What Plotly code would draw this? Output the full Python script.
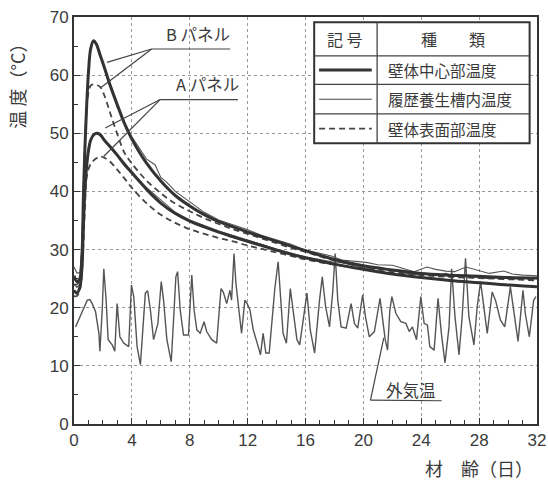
import plotly.graph_objects as go

# ---------------- data ----------------
days_c = [0, 0.2, 0.4, 0.55, 0.65, 0.75, 0.88, 1.0, 1.15, 1.35, 1.55, 1.8, 2.1, 2.5, 3.0, 3.5, 4.0,
          5.0, 6.0, 7.0, 8.0, 9.0, 10, 11, 12, 13, 14, 15, 16, 18, 20, 22, 24, 26, 28, 30, 32]

b_center = [25.5, 24.5, 25.0, 29.0, 39.0, 47.0, 55.0, 60.5, 64.5, 65.9, 65.3, 63.5, 61.3, 58.2, 54.8, 51.6, 49.0,
            44.9, 41.8, 39.3, 37.5, 36.0, 34.8, 33.9, 33.0, 32.2, 31.4, 30.6, 29.8, 28.3, 27.2, 26.5, 25.9, 25.6, 25.4, 25.2, 25.1]
a_center = [23.0, 22.5, 23.5, 27.0, 34.0, 40.0, 44.5, 47.0, 48.8, 49.7, 50.0, 49.8, 48.8, 47.7, 46.2, 44.6, 43.2,
            40.4, 38.0, 36.2, 34.9, 33.9, 33.0, 32.2, 31.4, 30.7, 29.9, 29.2, 28.6, 27.5, 26.6, 25.8, 25.2, 24.7, 24.3, 23.9, 23.6]
b_surface = [24.0, 24.0, 25.0, 30.0, 40.0, 48.0, 54.5, 57.0, 58.2, 58.4, 58.3, 58.0, 56.5, 53.5, 49.8, 46.6, 44.8,
             41.9, 39.7, 37.9, 36.6, 35.4, 34.4, 33.5, 32.7, 31.9, 31.1, 30.3, 29.6, 28.1, 27.1, 26.4, 25.8, 25.4, 25.2, 25.0, 24.9]
a_surface = [22.0, 22.0, 23.0, 26.0, 31.0, 37.0, 42.5, 43.8, 44.7, 45.3, 45.7, 46.0, 45.8, 45.1, 43.7, 42.2, 40.6,
             38.0, 36.0, 34.6, 33.5, 32.7, 32.0, 31.4, 30.7, 30.1, 29.5, 28.9, 28.3, 27.4, 26.7, 26.1, 25.6, 25.3, 25.1, 24.9, 24.7]

days_cure = [0, 0.2, 0.4, 0.55, 0.65, 0.75, 0.88, 1.0, 1.15, 1.35, 1.55, 1.8, 2.1, 2.5, 3.0, 3.5, 4.0,
             5.0, 5.6, 6.0, 6.4, 7.0, 8.0, 9.0, 10, 11, 12, 13, 14, 15, 16, 17, 17.8, 18.5, 19.5, 20.2,
             21, 22, 22.7, 23.5, 24.4, 25, 25.7, 26.3, 27.1, 27.8, 28.7, 29.7, 30.3, 31, 32]
b_cure = [27.0, 26.0, 26.0, 30.0, 40.0, 48.0, 56.0, 61.0, 64.8, 66.0, 65.2, 63.3, 61.6, 58.6, 55.1, 51.9, 49.4,
          45.6, 44.6, 42.4, 41.6, 40.0, 38.2, 36.4, 35.1, 34.3, 33.4, 32.4, 31.7, 30.9, 29.9, 29.3, 28.9, 28.2, 27.9, 27.8,
          27.4, 27.3, 26.8, 26.2, 27.0, 26.6, 26.3, 26.2, 27.0, 26.5, 25.9, 26.3, 25.8, 25.6, 25.5]
a_cure = [24.0, 23.5, 24.0, 27.5, 34.0, 40.5, 45.0, 47.4, 49.0, 49.9, 50.1, 49.6, 48.9, 47.9, 46.4, 44.9, 43.4,
          40.7, 39.4, 38.4, 37.6, 36.4, 35.1, 34.1, 33.2, 32.4, 31.6, 30.9, 30.1, 29.4, 28.7, 28.3, 27.9, 27.8, 27.1, 26.8,
          26.7, 26.4, 26.0, 25.7, 25.8, 25.5, 25.9, 25.4, 25.6, 25.2, 25.0, 25.3, 24.9, 25.1, 25.0]

days_out = [0.11, 0.23, 0.46, 0.92, 1.10, 1.26, 1.49, 1.72, 1.79, 1.95, 2.06, 2.22, 2.36, 2.64, 2.82, 2.98, 3.17,
            3.44, 3.78, 3.97, 4.13, 4.36, 4.59, 4.77, 4.93, 5.09, 5.28, 5.50, 5.80, 6.03, 6.19, 6.42, 6.72,
            6.88, 7.04, 7.16, 7.34, 7.57, 7.91, 8.14, 8.30, 8.49, 8.72, 8.99, 9.17, 9.52, 9.86, 10.16, 10.32,
            10.55, 10.78, 10.89, 11.06, 11.19, 11.35, 11.58, 11.81, 11.97, 12.16, 12.39, 12.73, 12.89, 13.07,
            13.26, 13.49, 13.88, 14.11, 14.27, 14.45, 14.68, 14.95, 15.14, 15.41, 15.60, 16.10, 16.33, 16.63,
            16.97, 17.16, 17.39, 17.66, 17.89, 18.05, 18.23, 18.46, 18.81, 19.15, 19.38, 19.61, 19.95, 20.14,
            20.41, 20.76, 21.15, 21.33, 21.51, 21.67, 21.83, 21.97, 22.25, 22.59, 22.94, 23.17, 23.39, 23.67,
            23.97, 24.20, 24.43, 24.59, 24.89, 25.16, 25.39, 25.64, 25.92, 26.10, 26.33, 26.61, 26.83, 27.06,
            27.29, 27.64, 27.87, 28.10, 28.33, 28.56, 28.90, 29.13, 29.47, 29.77, 30.16, 30.39, 30.69, 31.03,
            31.19, 31.47, 31.77, 31.93]
outdoor = [16.7, 17.3, 18.7, 21.3, 21.4, 20.7, 19.3, 15.6, 12.5, 19.6, 26.7, 21.3, 14.5, 13.6, 12.5, 20.7, 15.0,
           13.9, 13.3, 23.9, 21.9, 13.3, 10.2, 16.7, 22.5, 22.9, 19.6, 14.5, 17.3, 24.5, 21.3, 14.5, 10.7,
           17.9, 25.3, 26.2, 19.6, 15.3, 15.3, 25.6, 19.6, 16.2, 15.6, 17.6, 15.9, 14.5, 13.9, 23.3, 22.7,
           20.7, 23.0, 21.3, 29.3, 24.2, 21.0, 15.6, 21.3, 20.7, 19.6, 16.2, 13.3, 11.9, 15.6,
           12.2, 12.2, 23.3, 27.9, 21.3, 15.6, 13.9, 23.3, 19.6, 14.5, 13.6, 22.5, 16.2, 12.2,
           21.3, 25.3, 20.2, 16.7, 23.0, 29.3, 21.3, 16.7, 16.5, 20.7, 17.3, 16.5, 22.2, 18.5,
           15.0, 15.9, 21.6, 17.9, 14.5, 12.7, 19.6, 21.9, 19.0, 17.6, 17.3, 15.9, 16.7, 14.5,
           21.9, 17.3, 17.0, 13.3, 12.7, 21.6, 15.6, 10.5, 16.7, 26.7, 18.5, 11.9, 18.5, 28.5,
           18.5, 13.6, 20.2, 24.5, 19.6, 15.6, 22.7, 21.3, 17.9, 16.7, 23.6, 19.6, 14.2, 23.0,
           19.0, 15.0, 21.3, 21.9]

x_ticks = [0, 4, 8, 12, 16, 20, 24, 28, 32]
y_ticks = [0, 10, 20, 30, 40, 50, 60, 70]

legend_labels = ["壁体中心部温度", "履歴養生槽内温度", "壁体表面部温度"]

# ---------------- figure ----------------
INK = "#3a3a3a"
JP = "Noto Sans CJK JP"
fig = go.Figure()

fig.add_trace(go.Scatter(x=days_out, y=outdoor, mode="lines",
                         line=dict(color="#555", width=1.4)))
for d, v in [(days_cure, b_cure), (days_cure, a_cure)]:
    fig.add_trace(go.Scatter(x=d, y=v, mode="lines", line=dict(color="#555", width=1.1)))
for v in [b_surface, a_surface]:
    fig.add_trace(go.Scatter(x=days_c, y=v, mode="lines", line_shape="spline",
                             line=dict(color="#444", width=1.8, dash="6px,4px")))
for v in [b_center, a_center]:
    fig.add_trace(go.Scatter(x=days_c, y=v, mode="lines", line_shape="spline",
                             line=dict(color="#333", width=3)))

shapes = []
def seg(x0, y0, x1, y1, w=1.2):
    shapes.append(dict(type="line", x0=x0, y0=y0, x1=x1, y1=y1, xref="x", yref="y",
                       line=dict(color="#444", width=w), layer="above"))

# leader lines for panel labels
seg(5.37, 64.5, 10.8, 64.5); seg(5.37, 64.5, 2.28, 62.2); seg(5.37, 64.5, 1.82, 57.8)
seg(5.95, 55.8, 11.33, 55.8); seg(5.95, 55.8, 2.16, 50.9); seg(5.95, 55.8, 2.05, 46.0)
# outdoor label bracket
seg(21.41, 14.8, 20.49, 4.1); seg(20.49, 4.1, 25.41, 4.0)

# legend table
shapes.append(dict(type="rect", x0=16.6, x1=31.49, y0=48.3, y1=69.1, xref="x", yref="y",
                   fillcolor="white", line=dict(color="#333", width=2), layer="above"))
seg(20.95, 48.3, 20.95, 69.1, 1.3)
for yy in [63.33, 58.4, 53.33]:
    seg(16.6, yy, 31.49, yy, 1.3)
shapes.append(dict(type="line", x0=16.94, x1=20.58, y0=60.87, y1=60.87, xref="x", yref="y",
                   line=dict(color="#333", width=3), layer="above"))
shapes.append(dict(type="line", x0=16.94, x1=20.58, y0=55.86, y1=55.86, xref="x", yref="y",
                   line=dict(color="#444", width=1.1), layer="above"))
shapes.append(dict(type="line", x0=16.94, x1=20.58, y0=50.8, y1=50.8, xref="x", yref="y",
                   line=dict(color="#444", width=1.8, dash="6px,4px"), layer="above"))

ann = []
def txt(x, y, s, size=15, xanchor="center", xref="x", yref="y", angle=0):
    ann.append(dict(x=x, y=y, text=s, xref=xref, yref=yref, showarrow=False,
                    xanchor=xanchor, yanchor="middle", textangle=angle,
                    font=dict(family=JP, size=size, color=INK)))

txt(18.75, 66.15, "記 号", 16)
txt(26.2, 66.15, "種　　類", 16)
for yy, lab in zip([60.87, 55.86, 50.8], legend_labels):
    txt(21.55, yy, lab, 15.5, xanchor="left")
txt(8.55, 67.1, "B パネル", 16.5)
txt(9.2, 58.4, "A パネル", 16.5)
txt(23.3, 5.8, "外気温", 16.5)
txt(-0.122, 0.84, "温 度（°C）", 18, xref="paper", yref="paper", angle=-90)
ann.append(dict(x=0.996, y=-0.109, text="材　齢（日）", xref="paper", yref="paper",
                showarrow=False, xanchor="right", yanchor="middle",
                font=dict(family=JP, size=18, color=INK)))

axis_common = dict(showline=True, linecolor="#333", linewidth=2, mirror=True,
                   ticks="inside", ticklen=6, tickcolor="#333", zeroline=False,
                   showgrid=True, gridcolor="#999", griddash="dot", gridwidth=1,
                   automargin=False,
                   tickfont=dict(family="Liberation Sans", size=17, color=INK))

fig.update_layout(
    width=548, height=481, autosize=False,
    margin=dict(l=73.5, r=11, t=17, b=57),
    paper_bgcolor="white", plot_bgcolor="white",
    showlegend=False,
    shapes=shapes, annotations=ann,
    xaxis=dict(range=[0, 32], tickvals=x_ticks, ticktext=[str(t) for t in x_ticks],
               minor=dict(dtick=1, ticks="inside", ticklen=4, tickcolor="#333", showgrid=False),
               **axis_common),
    yaxis=dict(range=[0, 70], tickvals=y_ticks, ticktext=[str(t) for t in y_ticks],
               minor=dict(dtick=5, ticks="inside", ticklen=4, tickcolor="#333", showgrid=False),
               **axis_common),
)

# remove the page's default body margin so the figure sits at the window origin
fig.write_html("out.html",
               config={"displayModeBar": False, "responsive": False},
               post_script="document.body.style.margin='0';document.body.style.overflow='hidden';")
